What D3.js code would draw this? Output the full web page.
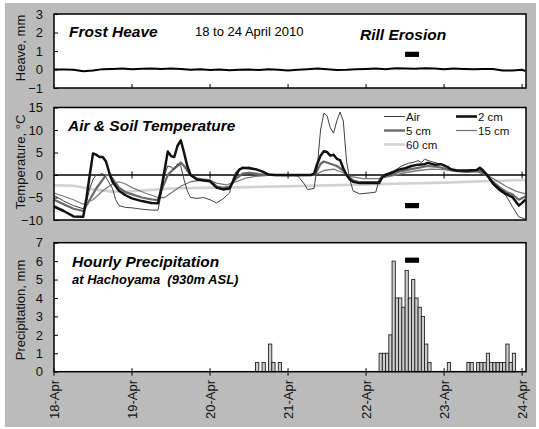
<!DOCTYPE html>
<html><head><meta charset="utf-8">
<script src="https://cdn.jsdelivr.net/npm/d3@7"></script>
<style>body{margin:0;background:#fff}svg{display:block;font-family:Arial,"Liberation Sans",sans-serif}</style>
</head><body><svg id="c" width="539" height="429"></svg>
<script>
// ---------- data ----------
const dayLabels = ["18-Apr","19-Apr","20-Apr","21-Apr","22-Apr","23-Apr","24-Apr"];
const dayHours = [0,24,48,72,96,120,144];

const heaveTicks = [-1,0,1,2,3];
const tempTicks = [-10,-5,0,5,10,15];
const precipTicks = [0,1,2,3,4,5,6,7];

const heaveHours = [0,3,6,9,12,15,18,21,24,27,30,33,36,39,42,45,48,51,54,57,60,63,66,69,72,75,78,81,84,87,90,93,96,99,102,105,108,111,114,117,120,123,126,129,132,135,138,141,144,145];
const heaveValues = [0,0,-0.02,-0.1,-0.05,0.02,0.03,0.05,0.02,0.04,0.05,0.03,0.05,0.03,-0.02,0.02,-0.03,0,-0.04,-0.02,0,-0.03,0.02,-0.02,-0.05,-0.02,0.02,0.05,0.02,-0.03,-0.02,0.02,0.03,0.05,0.02,0.07,0.05,0.04,0.07,0.05,0.02,0.05,0.03,0.01,0.03,0.03,-0.05,-0.05,-0.02,-0.08];

const airHours = [0,3,6,9,10,11,12,13,15,16,18,19,20,22,24,27,30,32,33,34,35,36,37,38,39,40,41,42,44,46,48,50,52,54,55,56,58,60,62,64,66,68,72,75,77,78,80,81,82,83,84,85,86,87,88,89,90,91,92,94,97,99,100,101,103,105,107,109,111,112,113,114,116,118,120,122,124,127,130,131,133,135,137,139,141,143,145];
const airTemp = [-4.5,-5.8,-6.8,-7.5,-6,-3,-1,0,0.3,-0.5,-3,-5.5,-6.8,-7.2,-7.3,-7.6,-7.8,-7.8,-4,0,2,1.8,1.2,2.5,2,-1,-3.5,-5,-5.2,-5,-5.5,-6.2,-5.3,-4,-1,0.8,1.5,1.8,1.3,0.8,0.2,0,0,-0.2,-2,-3.2,-3,2,10,13.7,13.2,10.5,9.3,12,14,12,3,-1,-3.5,-4.2,-4,-3.8,-1,0,0.5,1.1,2,2.6,2.9,3.2,2.8,3.5,3,2.6,2.2,1.4,0.9,0.7,1,1.2,0,-2.2,-3.5,-4.5,-7,-9.3,-9.8];

const cm2Hours = [0,3,6,9,10,11,12,13,14,15,16,17,18,20,22,24,27,30,32,33,34,35,36,37,38,39,40,41,42,44,46,48,50,52,54,55,56,57,58,60,62,64,66,68,72,76,79,80,81,82,83,84,85,86,87,88,89,90,91,92,94,97,100,101,102,104,106,108,110,112,114,115,117,119,121,122,124,127,130,131,132,133,135,137,139,141,143,144,145];
const cm2Temp = [-7,-8,-9.2,-9.3,-5,0,4.8,4.5,4,4,3,0.5,-1.5,-3.5,-4.5,-5.2,-5.8,-6.2,-6.3,-3,1,5.2,4.2,4,6.5,7.7,5,2,0,-1,-1.2,-1.4,-2.8,-3.2,-3,-1.5,0,1.2,1.6,1.5,1.3,0.8,0.1,0,0,0,0,0.3,2.5,4.3,5.3,5.1,4.3,4.5,3.6,3.3,1.5,0,-1,-1.5,-1.8,-1.8,-1.8,-0.5,0,0.5,1.2,1.5,2,2.3,2.4,2.7,2.3,2.4,1.8,1.3,1,1,1.1,1.6,1,0.2,-1.8,-3.2,-4.2,-4.9,-6.8,-6.2,-5.5];

const cm5Hours = [0,3,6,9,11,13,15,16,17,18,20,22,24,27,30,32,33,35,37,38,39,40,42,44,46,48,50,52,54,56,58,60,63,66,72,80,81,82,83,85,87,89,90,92,94,100,101,103,106,109,112,115,118,120,123,127,131,133,135,137,139,141,143,145];
const cm5Temp = [-5.5,-6.5,-7.5,-8,-5.5,-3,-1,0,0,-0.8,-2.8,-3.8,-4.3,-5,-5.4,-5.6,-3.5,0,1.5,2,2.8,2,0,-0.8,-1,-1.2,-2.5,-2.9,-2.6,-0.8,0.3,0.5,0.2,0,-0.1,0,1,2.5,3,2.5,2,1,0,-1.2,-1.6,-1.6,-0.5,0,0.7,1.2,1.6,2,1.8,1.5,0.9,0.7,0.9,0,-1.5,-2.7,-3.7,-4.3,-5.5,-4.8];

const cm15Hours = [0,6,9,12,15,18,20,22,24,28,32,34,36,39,42,45,48,50,53,56,59,62,66,72,80,83,86,89,91,95,100,104,108,112,116,120,124,130,133,136,139,142,145];
const cm15Temp = [-4,-5.5,-6.5,-5.5,-3.5,-2,-1.5,-2,-2.8,-4,-5,-5,-4,-2.5,-1.5,-1.2,-1.2,-1.8,-2.2,-1.5,-0.7,-0.3,-0.1,0,-0.1,1,1.3,0.5,-0.3,-0.8,-0.8,-0.2,0.5,1,1.3,1.2,0.8,0.7,0.1,-1.2,-2.5,-3.6,-4.2];

const cm60Hours = [0,6,12,18,24,30,36,42,48,60,72,84,96,108,120,132,145];
const cm60Temp = [-2.3,-2.4,-3.2,-3.7,-3.6,-3.3,-3,-2.9,-2.8,-2.7,-2.5,-2.3,-2.1,-1.9,-1.7,-1.4,-1.1];

const precipHours = [62,64,66,67,69,100,101,102,103,104,105,106,107,108,109,110,111,112,113,114,115,121,127,128,130,131,132,133,134,135,136,137,138,139,140,141];
const precipValues = [0.5,0.5,1.5,0.5,0.5,1,1,1,2,6,4,4,3.5,5.5,4,5,4,3.5,3,1.5,0.5,0.5,0.5,0.5,0.5,0.5,0.5,1,0.5,0.5,0.5,0.5,0.5,1.5,0.5,1];

const rillPeriod = [108, 112.3];
const rillLevels = [0.82, -6.8, 6.05];

const legendNames = ["Air","2 cm","5 cm","15 cm","60 cm"];

// ---------- drawing ----------
const svg = d3.select("#c");
svg.append("rect").attr("x",5).attr("y",3).attr("width",531).attr("height",424).attr("fill","#bbbbbb");

const x = d3.scaleLinear().domain([0,145.2]).range([54,526]);
const L = 54, R = 526;

const yHeave = d3.scaleLinear().domain([-1,3]).range([88,14]);
const yTemp = d3.scaleLinear().domain([-10,15]).range([220,107.5]);
const yPrec = d3.scaleLinear().domain([0,7]).range([371.7,242.7]);

function panel(y, ticks) {
  const [b, t] = y.range();
  svg.append("rect").attr("x",L).attr("y",t).attr("width",R-L).attr("height",b-t).attr("fill","#fff");
  const ax = svg.append("g").attr("transform",`translate(${L},0)`)
    .call(d3.axisLeft(y).tickValues(ticks).tickSizeInner(-4).tickSizeOuter(0).tickPadding(11).tickFormat(d3.format("d")));
  ax.select(".domain").remove();
  ax.selectAll("line").attr("stroke","#000").attr("stroke-width",1);
  ax.selectAll("text").attr("font-size",13).attr("fill","#111").attr("font-family","Arial, 'Liberation Sans', sans-serif");
}
function border(y) {
  const [b, t] = y.range();
  svg.append("rect").attr("x",L).attr("y",t).attr("width",R-L).attr("height",b-t).attr("fill","none").attr("stroke","#000").attr("stroke-width",1.5);
}

panel(yHeave, heaveTicks);
panel(yTemp, tempTicks);
panel(yPrec, precipTicks);

// ---- top: frost heave
svg.append("path").datum(heaveHours.map((h,i)=>[h,heaveValues[i]]))
  .attr("d", d3.line().x(d=>x(d[0])).y(d=>yHeave(d[1])))
  .attr("fill","none").attr("stroke","#000").attr("stroke-width",2);
dayHours.slice(1).forEach(h=>{
  svg.append("line").attr("x1",x(h)).attr("x2",x(h)).attr("y1",yHeave(-1)).attr("y2",yHeave(-1)-4).attr("stroke","#000");
});

// ---- middle: temperatures
svg.append("line").attr("x1",L).attr("x2",R).attr("y1",yTemp(0)).attr("y2",yTemp(0)).attr("stroke","#000").attr("stroke-width",1.5);
dayHours.slice(1).forEach(h=>{
  svg.append("line").attr("x1",x(h)).attr("x2",x(h)).attr("y1",yTemp(0)-3.5).attr("y2",yTemp(0)+3.5).attr("stroke","#000");
});
const series = [
  {h:cm60Hours, v:cm60Temp, c:"#d2d2d2", w:2.6},
  {h:cm15Hours, v:cm15Temp, c:"#7a7a7a", w:1.3},
  {h:cm5Hours, v:cm5Temp, c:"#6a6a6a", w:2.2},
  {h:airHours, v:airTemp, c:"#404040", w:1},
  {h:cm2Hours, v:cm2Temp, c:"#111", w:2.5}
];
const tl = d3.line().x(d=>x(d[0])).y(d=>yTemp(d[1]));
series.forEach(s=>{
  svg.append("path").datum(s.h.map((h,i)=>[h,s.v[i]])).attr("d",tl)
    .attr("fill","none").attr("stroke",s.c).attr("stroke-width",s.w).attr("stroke-linejoin","round");
});
// legend
const legendStyle = {"Air":["#404040",1],"2 cm":["#111",2.6],"5 cm":["#6a6a6a",2.4],"15 cm":["#7a7a7a",1.3],"60 cm":["#d2d2d2",2.6]};
const legPos = [[384,116.5],[456,116.5],[384,130.5],[456,130.5],[384,144.5]];
legendNames.forEach((n,i)=>{
  const [lx,ly] = legPos[i];
  svg.append("line").attr("x1",lx).attr("x2",lx+21).attr("y1",ly).attr("y2",ly)
    .attr("stroke",legendStyle[n][0]).attr("stroke-width",legendStyle[n][1]);
  svg.append("text").attr("x",lx+22).attr("y",ly+4).attr("font-size",11.5).attr("fill","#111").text(n);
});

// ---- bottom: precipitation
svg.append("g").selectAll("rect").data(precipHours.map((h,i)=>[h,precipValues[i]])).join("rect")
  .attr("x",d=>x(d[0])).attr("width",d=>x(d[0]+1)-x(d[0]))
  .attr("y",d=>yPrec(d[1])).attr("height",d=>yPrec(0)-yPrec(d[1]))
  .attr("fill","#cdcdcd").attr("stroke","#222").attr("stroke-width",0.9);
dayHours.forEach(h=>{
  svg.append("line").attr("x1",x(h)).attr("x2",x(h)).attr("y1",yPrec(0)-3.5).attr("y2",yPrec(0)+4).attr("stroke","#000");
});

// rill erosion markers
[yHeave,yTemp,yPrec].forEach((y,i)=>{
  svg.append("rect").attr("x",x(rillPeriod[0])).attr("width",x(rillPeriod[1])-x(rillPeriod[0]))
    .attr("y",y(rillLevels[i])-2.6).attr("height",5.2).attr("fill","#000");
});

border(yHeave); border(yTemp); border(yPrec);

// x labels
dayHours.forEach((h,i)=>{
  svg.append("text").attr("transform",`translate(${x(h)+4.5},380) rotate(-90)`)
    .attr("text-anchor","end").attr("font-size",13).attr("fill","#111").text(dayLabels[i]);
});

// y titles
[["Heave, mm",48],["Temperature, °C",162],["Precipitation, mm",310]].forEach(([t,cy])=>{
  svg.append("text").attr("transform",`translate(25,${cy}) rotate(-90)`)
    .attr("text-anchor","middle").attr("font-size",13).attr("fill","#111").text(t);
});

// titles
function title(t,xp,yp,size,bold,italic){
  svg.append("text").attr("x",xp).attr("y",yp).attr("font-size",size)
    .attr("font-weight",bold?"bold":"normal").attr("font-style",italic?"italic":"normal")
    .attr("fill","#000").style("white-space","pre").text(t);
}
title("Frost Heave",69,37,15.5,true,true);
title("18 to 24 April 2010",195,36,13,false,false);
title("Rill Erosion",360,39.5,15.5,true,true);
title("Air & Soil Temperature",68,131,15.5,true,true);
title("Hourly Precipitation",72,267,15.5,true,true);
title("at Hachoyama  (930m ASL)",72,284,13,true,true);
</script></body></html>
